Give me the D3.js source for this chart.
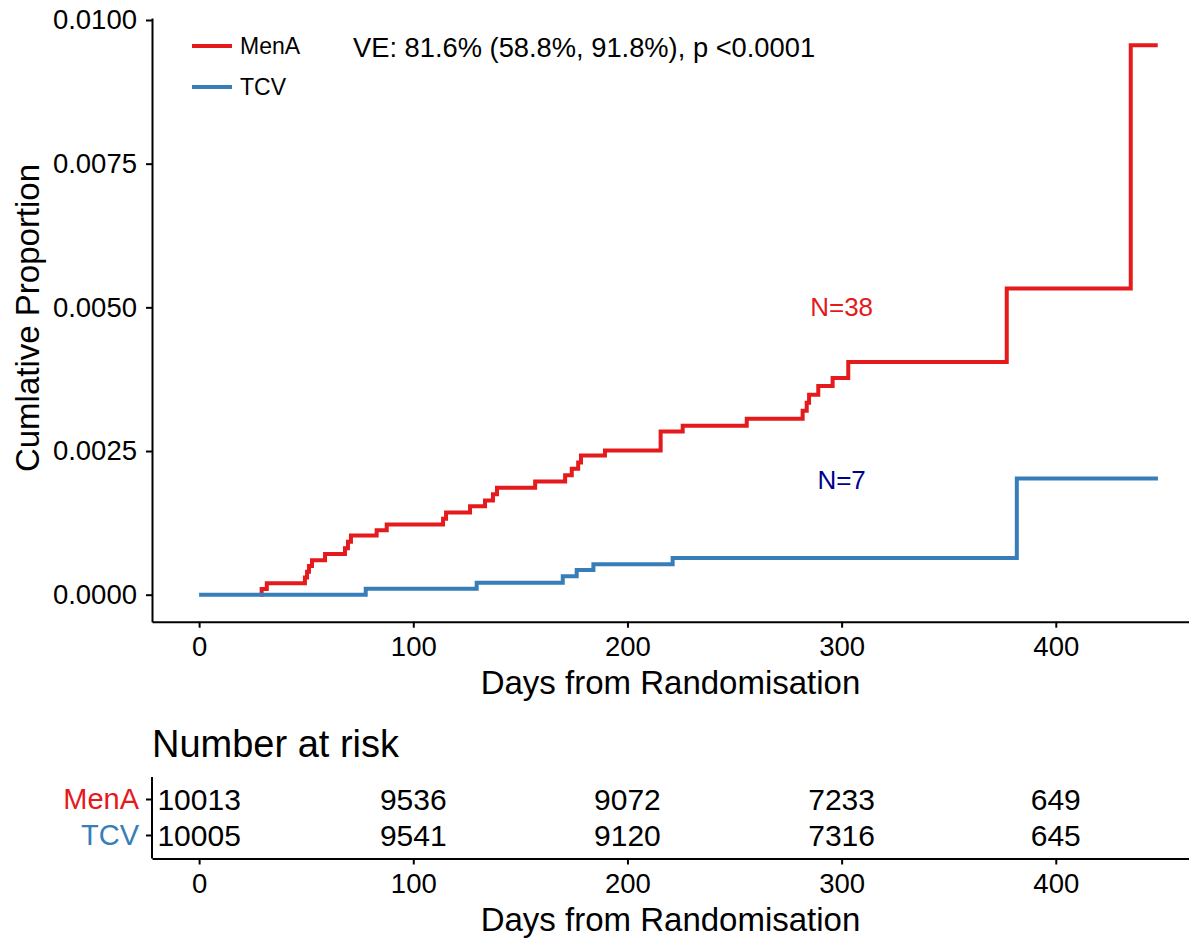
<!DOCTYPE html>
<html><head><meta charset="utf-8">
<script src="https://cdn.jsdelivr.net/npm/d3@7"></script>
<style>body{margin:0;background:#fff} text{font-family:"Liberation Sans",Arial,sans-serif}</style>
</head><body><svg id="c" width="1189" height="940"></svg>
<script>
// ---- data ----
const groups = ["MenA", "TCV"];
const menaDays = [29.2, 31.6, 49.4, 50.4, 51.3, 52.7, 58.8, 68.1, 69.5, 70.9, 82.9, 87.6, 113.9, 115.3, 126.5, 133.5, 137.2, 139.1, 156.9, 170.9, 174.0, 177.0, 178.3, 189.5, 215.5, 225.8, 255.7, 281.8, 283.7, 284.8, 289.1, 295.8, 303.1, 377.1, 435.0];
const menaCum  = [0.00010, 0.00020, 0.00030, 0.00040, 0.00050, 0.00060, 0.00071, 0.00081, 0.00092, 0.00103, 0.00112, 0.00122, 0.00132, 0.00143, 0.00154, 0.00164, 0.00175, 0.00186, 0.00197, 0.00208, 0.00219, 0.00230, 0.00242, 0.00251, 0.00284, 0.00294, 0.00306, 0.00320, 0.00334, 0.00348, 0.00363, 0.00377, 0.00405, 0.00533, 0.00956];
const menaEnd = 447.6;
const tcvDays = [77.8, 129.6, 169.8, 176.3, 184.1, 221.1, 381.8];
const tcvCum  = [0.000105, 0.00021, 0.00032, 0.00043, 0.00053, 0.00064, 0.00202];
const tcvEnd = 447.7;
const xTicks = [0, 100, 200, 300, 400];
const yTicks = [0, 0.0025, 0.005, 0.0075, 0.01];
const riskMenA = [10013, 9536, 9072, 7233, 649];
const riskTCV  = [10005, 9541, 9120, 7316, 645];
const nLabels = ["N=38", "N=7"];
const veText = "VE: 81.6% (58.8%, 91.8%), p <0.0001";
const xTitle = "Days from Randomisation";
const yTitle = "Cumlative Proportion";
const riskTitle = "Number at risk";

// ---- drawing ----
const colors = {MenA: "#E41A1C", TCV: "#377EB8"};
const svg = d3.select("#c");
const F = '"Liberation Sans",Arial,sans-serif';

const x = d3.scaleLinear().domain([-22.0, 462.2]).range([152, 1189]);
const y = d3.scaleLinear().domain([0, 0.01]).range([594.7, 20]);
const yAxisTop = 18, xAxisY = 621.7;

function stepPts(days, cum, end, start) {
  const pts = [[start, 0]];
  days.forEach((d, i) => pts.push([d, cum[i]]));
  pts.push([end, cum[cum.length - 1]]);
  return pts;
}
const line = d3.line().x(d => x(d[0])).y(d => y(d[1])).curve(d3.curveStepAfter);

// x axis
const gx = svg.append("g").attr("transform", `translate(0,${xAxisY})`)
  .call(d3.axisBottom(x).tickValues(xTicks).tickSize(6).tickPadding(9).tickSizeOuter(0));
// y axis
const yAx = d3.scaleLinear().domain([y.invert(xAxisY), y.invert(yAxisTop)]).range([xAxisY, yAxisTop]);
const gy = svg.append("g").attr("transform", `translate(152,0)`)
  .call(d3.axisLeft(yAx).tickValues(yTicks).tickFormat(d3.format(".4f")).tickSize(6).tickPadding(9).tickSizeOuter(0));
[gx, gy].forEach(g => {
  g.selectAll("path.domain").attr("stroke", "#000").attr("stroke-width", 2);
  g.selectAll(".tick line").attr("stroke", "#000").attr("stroke-width", 2);
  g.selectAll(".tick text").attr("fill", "#000").style("font-size", "27.5px").style("font-family", F);
});

// curves (red first, blue drawn over it)
svg.append("path").attr("d", line(stepPts(menaDays, menaCum, menaEnd, menaDays[0] - 0.6)))
  .attr("fill", "none").attr("stroke", colors.MenA).attr("stroke-width", 4);
svg.append("path").attr("d", line(stepPts(tcvDays, tcvCum, tcvEnd, 0)))
  .attr("fill", "none").attr("stroke", colors.TCV).attr("stroke-width", 4);

// titles
svg.append("text").attr("x", 670.5).attr("y", 694).attr("text-anchor", "middle")
  .style("font-size", "33px").text(xTitle);
svg.append("text").attr("transform", "translate(39,318) rotate(-90)").attr("text-anchor", "middle")
  .style("font-size", "33px").text(yTitle);

// legend
const legY = [46, 87];
groups.forEach((gname, i) => {
  svg.append("line").attr("x1", 192).attr("x2", 232).attr("y1", legY[i]).attr("y2", legY[i])
    .attr("stroke", colors[gname]).attr("stroke-width", 4);
  svg.append("text").attr("x", 240).attr("y", legY[i]).attr("dy", "0.35em")
    .style("font-size", "23px").text(gname);
});
svg.append("text").attr("x", 353).attr("y", 47).attr("dy", "0.35em")
  .style("font-size", "27.3px").text(veText);

// N labels
svg.append("text").attr("x", x(300)).attr("y", y(0.005)).attr("dy", "0.35em").attr("text-anchor", "middle")
  .attr("fill", "#E41A1C").style("font-size", "26px").text(nLabels[0]);
svg.append("text").attr("x", x(300)).attr("y", y(0.002)).attr("dy", "0.35em").attr("text-anchor", "middle")
  .attr("fill", "#00008B").style("font-size", "26px").text(nLabels[1]);

// ---- risk table ----
svg.append("text").attr("x", 152).attr("y", 757).style("font-size", "38px").text(riskTitle);
const tBottom = 858.5, tTop = 777;
const rowY = d3.scalePoint().domain(groups).range([799, 835]);
const tx = svg.append("g").attr("transform", `translate(0,${tBottom})`)
  .call(d3.axisBottom(x).tickValues(xTicks).tickSize(6).tickPadding(9).tickSizeOuter(0));
svg.append("line").attr("x1", 152).attr("x2", 152).attr("y1", tTop).attr("y2", tBottom)
  .attr("stroke", "#000").attr("stroke-width", 2);
tx.selectAll("path.domain").attr("stroke", "#000").attr("stroke-width", 2);
tx.selectAll(".tick line").attr("stroke", "#000").attr("stroke-width", 2);
tx.selectAll(".tick text").attr("fill", "#000").style("font-size", "27.5px").style("font-family", F);
const ty = svg.append("g").attr("transform", "translate(152,0)")
  .call(d3.axisLeft(rowY).tickSize(6).tickPadding(7));
ty.select("path.domain").remove();
ty.selectAll(".tick line").attr("stroke", "#000").attr("stroke-width", 2);
ty.selectAll(".tick text").style("font-size", "29px").style("font-family", F)
  .attr("fill", d => colors[d]);
const risks = {MenA: riskMenA, TCV: riskTCV};
groups.forEach(gname => {
  svg.append("g").selectAll("text").data(risks[gname]).join("text")
    .attr("x", (d, i) => x(xTicks[i])).attr("y", rowY(gname)).attr("dy", "0.35em")
    .attr("text-anchor", "middle").style("font-size", "30px").text(d => d);
});
svg.append("text").attr("x", 670.5).attr("y", 931).attr("text-anchor", "middle")
  .style("font-size", "33px").text(xTitle);
</script></body></html>
